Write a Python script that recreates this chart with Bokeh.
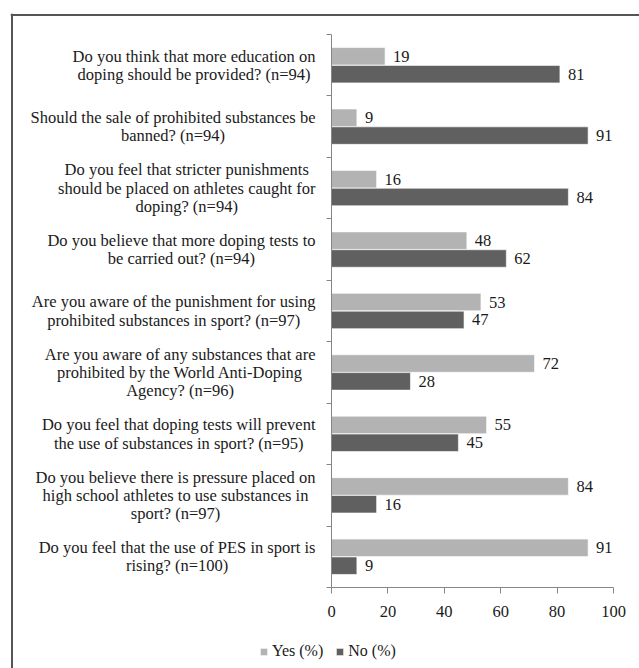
from bokeh.plotting import figure
from bokeh.models import (ColumnDataSource, LabelSet, Label, Legend, LegendItem,
                          FixedTicker, Range1d, Span)
from bokeh.embed import file_html
from bokeh.resources import INLINE

# ---------------- data ----------------
questions = [
    "Do you think that more education on\ndoping should be provided? (n=94)",
    "Should the sale of prohibited substances be\nbanned? (n=94)",
    "Do you feel that stricter punishments\nshould be placed on athletes caught for\ndoping? (n=94)",
    "Do you believe that more doping tests to\nbe carried out? (n=94)",
    "Are you aware of the punishment for using\nprohibited substances in sport? (n=97)",
    "Are you aware of any substances that are\nprohibited by the World Anti-Doping\nAgency? (n=96)",
    "Do you feel that doping tests will prevent\nthe use of substances in sport? (n=95)",
    "Do you believe there is pressure placed on\nhigh school athletes to use substances in\nsport? (n=97)",
    "Do you feel that the use of PES in sport is\nrising? (n=100)",
]
yes = [19, 9, 16, 48, 53, 72, 55, 84, 91]
no = [81, 91, 84, 62, 47, 28, 45, 16, 9]
series_names = ["Yes (%)", "No (%)"]
xticks = [0, 20, 40, 60, 80, 100]

# ---------------- style / layout (pixels) ----------------
FONT = "Liberation Serif"
FS = 16.5
TXT = "#1a1a1a"
AXC = "#868686"
C_YES = "#b3b3b3"
C_NO = "#606060"
BORDER = "#555555"

W_PX, H_PX = 639, 668
FR_L, FR_T = 10, 13          # frame left / top (canvas px)
AX_X0, AX_X100 = 331, 613    # canvas px of value 0 and 100
AX_YTOP, AX_YBOT = 34, 587   # canvas px of top / bottom of category axis
BORDER_X, BORDER_Y = 11.5, 14.5

# Times metrics (per 1000 em) for centring wrapped lines inside a label block
W = dict(zip("abcdefghijklmnopqrstuvwxyz",
             [444, 500, 444, 500, 444, 333, 500, 500, 278, 278, 500, 278, 778,
              500, 500, 500, 500, 333, 389, 278, 500, 500, 722, 500, 500, 444]))
W.update({"A": 722, "D": 722, "E": 611, "P": 556, "S": 556, "W": 944,
          " ": 250, "?": 444, "(": 333, ")": 333, "=": 564, "-": 333, "%": 833})
for d in "0123456789":
    W[d] = 500


def tw(s):
    return sum(W.get(ch, 500) for ch in s) * FS / 1000.0


n = len(questions)
centers = [n - 0.5 - i for i in range(n)]
BAR_H = 0.285
OFF = 0.145

px_x = (AX_X100 - AX_X0) / 100.0
px_y = (AX_YBOT - AX_YTOP) / float(n)
x_start = -(AX_X0 - FR_L) / px_x
x_end = (W_PX - AX_X0) / px_x
y_start = -(H_PX - AX_YBOT) / px_y
y_end = n + (AX_YTOP - FR_T) / px_y

p = figure(width=W_PX, height=H_PX,
           x_range=Range1d(x_start, x_end), y_range=Range1d(y_start, y_end),
           output_backend="svg", toolbar_location=None,
           min_border_left=FR_L, min_border_right=0, min_border_top=FR_T, min_border_bottom=0)
p.xgrid.visible = False
p.ygrid.visible = False
p.outline_line_color = None
p.background_fill_color = "white"
p.border_fill_color = "white"

# outer chart border (top and left edges; the rest runs off the page)
p.add_layout(Span(location=-(AX_X0 - BORDER_X) / px_x, dimension="height",
                  line_color=BORDER, line_width=2))
p.add_layout(Span(location=n + (AX_YTOP - BORDER_Y) / px_y, dimension="width",
                  line_color=BORDER, line_width=2))

src = ColumnDataSource(dict(
    y_yes=[c + OFF for c in centers],
    y_no=[c - OFF for c in centers],
    yes=yes, no=no,
    yes_t=[str(v) for v in yes], no_t=[str(v) for v in no],
))
r_yes = p.hbar(y="y_yes", left=0, right="yes", height=BAR_H, source=src,
               fill_color=C_YES, line_color="white", line_width=0.6)
r_no = p.hbar(y="y_no", left=0, right="no", height=BAR_H, source=src,
              fill_color=C_NO, line_color="white", line_width=0.6)

for xf, yf, tf in (("yes", "y_yes", "yes_t"), ("no", "y_no", "no_t")):
    p.add_layout(LabelSet(x=xf, y=yf, text=tf, source=src, x_offset=8,
                          text_align="left", text_baseline="middle",
                          text_font=FONT, text_font_size=f"{FS}px", text_color=TXT))

# category labels (wrapped lines, centred within a right-aligned block)
LINE = 18.3
GAP = 16
for q, c in zip(questions, centers):
    lines = q.split("\n")
    mw = max(tw(s) for s in lines)
    k = len(lines)
    for j, s in enumerate(lines):
        p.add_layout(Label(x=0, y=c, x_offset=-(GAP + mw / 2.0),
                           y_offset=((k - 1) / 2.0 - j) * LINE, text=s,
                           text_align="center", text_baseline="middle",
                           text_font=FONT, text_font_size=f"{FS}px", text_color=TXT))

# axes
xa = p.xaxis[0]
xa.fixed_location = 0
xa.bounds = (0, 100)
xa.ticker = FixedTicker(ticks=xticks)
xa.minor_tick_line_color = None
xa.major_tick_in = 0
xa.major_tick_out = 6
xa.axis_line_color = AXC
xa.major_tick_line_color = AXC
xa.major_label_standoff = 12
xa.major_label_text_font = FONT
xa.major_label_text_font_size = f"{FS}px"
xa.major_label_text_color = TXT

ya = p.yaxis[0]
ya.fixed_location = 0
ya.bounds = (0, n)
ya.ticker = FixedTicker(ticks=list(range(n + 1)))
ya.minor_tick_line_color = None
ya.major_tick_in = 0
ya.major_tick_out = 5
ya.axis_line_color = AXC
ya.major_tick_line_color = AXC
ya.major_label_overrides = {i: "" for i in range(n + 1)}

legend = Legend(items=[LegendItem(label=series_names[0], renderers=[r_yes]),
                       LegendItem(label=series_names[1], renderers=[r_no])],
                orientation="horizontal", location=(259 - FR_L, 8),
                glyph_width=9, glyph_height=9, label_standoff=4, spacing=12,
                padding=0, margin=0, border_line_color=None, background_fill_alpha=0,
                label_text_font=FONT, label_text_font_size="16px",
                label_text_color=TXT, label_height=18)
p.add_layout(legend)

open("out.html", "w").write(file_html(p, INLINE))
